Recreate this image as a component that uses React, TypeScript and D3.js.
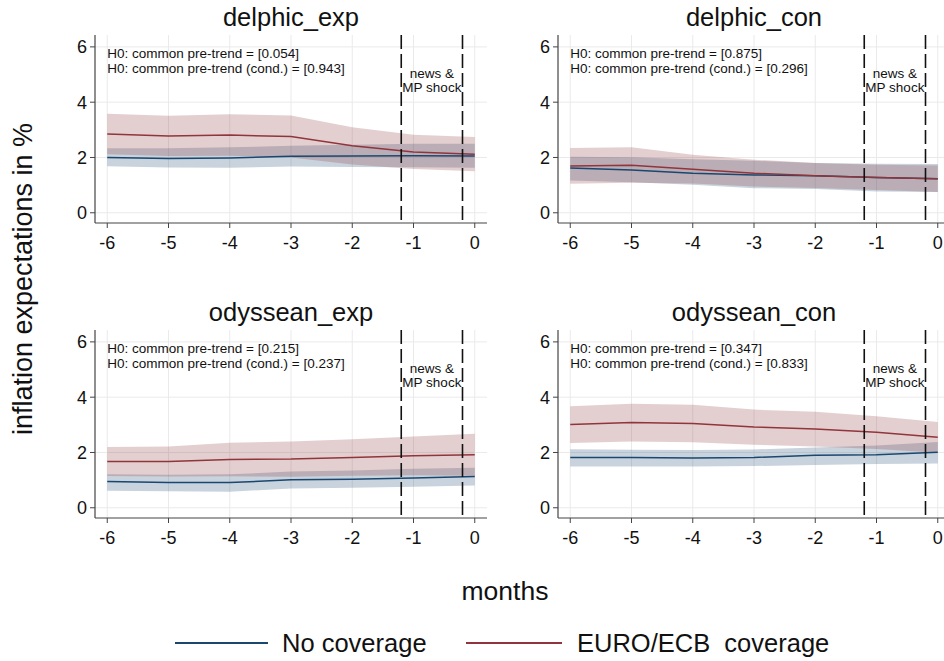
import React from 'react';
import * as d3 from 'd3';

const months = [-6, -5, -4, -3, -2, -1, 0];
const yTicks = [0, 2, 4, 6];
const shockLines = [-1.2, -0.2];
const panelTitles = ['delphic_exp', 'delphic_con', 'odyssean_exp', 'odyssean_con'];
const pTrend = ['0.054', '0.875', '0.215', '0.347'];
const pTrendCond = ['0.943', '0.296', '0.237', '0.833'];
const seriesNames = ['No coverage', 'EURO/ECB  coverage'];

// No coverage (blue)
const noCovMean = [
  [2.0, 1.96, 1.98, 2.04, 2.05, 2.06, 2.05],
  [1.62, 1.55, 1.43, 1.37, 1.34, 1.28, 1.23],
  [0.95, 0.91, 0.91, 1.01, 1.03, 1.08, 1.13],
  [1.82, 1.82, 1.8, 1.82, 1.9, 1.92, 2.01],
];
const noCovHi = [
  [2.33, 2.33, 2.37, 2.42, 2.46, 2.5, 2.5],
  [2.03, 2.01, 1.94, 1.88, 1.8, 1.77, 1.76],
  [1.21, 1.19, 1.21, 1.31, 1.35, 1.41, 1.45],
  [2.12, 2.1, 2.09, 2.11, 2.18, 2.25, 2.38],
];
const noCovLo = [
  [1.68, 1.64, 1.63, 1.67, 1.66, 1.65, 1.63],
  [1.17, 1.1, 1.01, 0.89, 0.86, 0.77, 0.75],
  [0.62, 0.6, 0.58, 0.7, 0.72, 0.76, 0.81],
  [1.49, 1.49, 1.49, 1.51, 1.55, 1.58, 1.6],
];

// EURO/ECB coverage (red)
const euroMean = [
  [2.85, 2.78, 2.81, 2.76, 2.42, 2.2, 2.12],
  [1.69, 1.72, 1.57, 1.43, 1.34, 1.28, 1.23],
  [1.67, 1.67, 1.75, 1.76, 1.82, 1.88, 1.92],
  [3.01, 3.08, 3.05, 2.92, 2.85, 2.73, 2.55],
];
const euroHi = [
  [3.58, 3.51, 3.56, 3.52, 3.09, 2.82, 2.74],
  [2.34, 2.37, 2.1, 1.92, 1.8, 1.74, 1.71],
  [2.2, 2.22, 2.35, 2.4, 2.48, 2.58, 2.68],
  [3.67, 3.76, 3.73, 3.55, 3.47, 3.31, 3.1],
];
const euroLo = [
  [2.12, 2.05, 2.06, 2.0, 1.75, 1.58, 1.5],
  [1.05, 1.09, 1.06, 0.95, 0.9, 0.82, 0.75],
  [1.15, 1.13, 1.14, 1.12, 1.16, 1.18, 1.16],
  [2.34, 2.4, 2.37, 2.28, 2.22, 2.13, 1.99],
];

const BLUE = '#1a476f';
const RED = '#90353b';
const FONT = '"Liberation Sans", Arial, Helvetica, sans-serif';

const W = 944;
const H = 661;
const colLeft = [95, 558];
const rowTop = [35, 330];
const pw = 392;
const ph = 188;

function Panel({ i }: { i: number }) {
  const left = colLeft[i % 2];
  const top = rowTop[Math.floor(i / 2)];
  const x = d3.scaleLinear().domain([-6.2, 0.2]).range([left, left + pw]);
  const y = d3.scaleLinear().domain([-0.37, 6.43]).range([top + ph, top]);

  const band = (lo: number[], hi: number[]) =>
    d3.area<number>()
      .x((_, k) => x(months[k]))
      .y0((_, k) => y(lo[k]))
      .y1((_, k) => y(hi[k]))(lo) || '';
  const line = (v: number[]) =>
    d3.line<number>()
      .x((_, k) => x(months[k]))
      .y(d => y(d))(v) || '';

  const bottom = top + ph;
  return (
    <g>
      <text x={left + pw / 2} y={top - 9} textAnchor="middle" fontSize={25.5} fontFamily={FONT} fill="#111">
        {panelTitles[i]}
      </text>
      {yTicks.map(t => (
        <line key={'gy' + t} x1={left} x2={left + pw} y1={y(t)} y2={y(t)} stroke="#eaeaea" strokeWidth={1} />
      ))}
      {months.map(m => (
        <line key={'gx' + m} x1={x(m)} x2={x(m)} y1={top} y2={bottom} stroke="#eaeaea" strokeWidth={1} />
      ))}
      <path d={band(noCovLo[i], noCovHi[i])} fill={BLUE} fillOpacity={0.24} stroke="none" />
      <path d={band(euroLo[i], euroHi[i])} fill={RED} fillOpacity={0.24} stroke="none" />
      <path d={line(noCovMean[i])} fill="none" stroke={BLUE} strokeWidth={1.5} />
      <path d={line(euroMean[i])} fill="none" stroke={RED} strokeWidth={1.5} />
      {shockLines.map(s => (
        <line key={'s' + s} x1={x(s)} x2={x(s)} y1={top} y2={bottom} stroke="#111" strokeWidth={1.6} strokeDasharray="14,5" />
      ))}
      <text x={x(-6)} y={top + 23} fontSize={13.5} fontFamily={FONT} fill="#111">
        {`H0: common pre-trend = [${pTrend[i]}]`}
      </text>
      <text x={x(-6)} y={top + 37.5} fontSize={13.5} fontFamily={FONT} fill="#111">
        {`H0: common pre-trend (cond.) = [${pTrendCond[i]}]`}
      </text>
      <text x={x(-0.7)} y={top + 43} textAnchor="middle" fontSize={13.5} fontFamily={FONT} fill="#111">news &amp;</text>
      <text x={x(-0.7)} y={top + 57} textAnchor="middle" fontSize={13.5} fontFamily={FONT} fill="#111">MP shock</text>
      <line x1={left} x2={left} y1={top} y2={bottom} stroke="#444" strokeWidth={1.2} />
      <line x1={left} x2={left + pw} y1={bottom} y2={bottom} stroke="#444" strokeWidth={1.2} />
      {yTicks.map(t => (
        <g key={'ty' + t}>
          <line x1={left - 5} x2={left} y1={y(t)} y2={y(t)} stroke="#444" strokeWidth={1} />
          <text x={left - 8} y={y(t)} dy="0.36em" textAnchor="end" fontSize={18} fontFamily={FONT} fill="#111">{t}</text>
        </g>
      ))}
      {months.map(m => (
        <g key={'tx' + m}>
          <line x1={x(m)} x2={x(m)} y1={bottom} y2={bottom + 5} stroke="#444" strokeWidth={1} />
          <text x={x(m)} y={bottom + 26} textAnchor="middle" fontSize={18} fontFamily={FONT} fill="#111">{m}</text>
        </g>
      ))}
    </g>
  );
}

export default function App() {
  const legendY = 643;
  return (
    <div style={{ position: 'absolute', left: 0, top: 0 }}>
      <svg width={W} height={H} style={{ display: 'block', background: '#fff' }}>
        {[0, 1, 2, 3].map(i => <Panel key={i} i={i} />)}
        <text transform={`translate(32,279) rotate(-90)`} textAnchor="middle" fontSize={27} fontFamily={FONT} fill="#111">
          inflation expectations in %
        </text>
        <text x={505} y={600} textAnchor="middle" fontSize={26.5} fontFamily={FONT} fill="#111">months</text>
        <line x1={175} x2={268} y1={legendY} y2={legendY} stroke={BLUE} strokeWidth={2} />
        <text x={282} y={legendY + 9} fontSize={25.5} fontFamily={FONT} fill="#111">{seriesNames[0]}</text>
        <line x1={466} x2={562} y1={legendY} y2={legendY} stroke={RED} strokeWidth={2} />
        <text x={577} y={legendY + 9} fontSize={25.5} fontFamily={FONT} fill="#111" style={{ whiteSpace: 'pre' }}>{seriesNames[1]}</text>
      </svg>
    </div>
  );
}
